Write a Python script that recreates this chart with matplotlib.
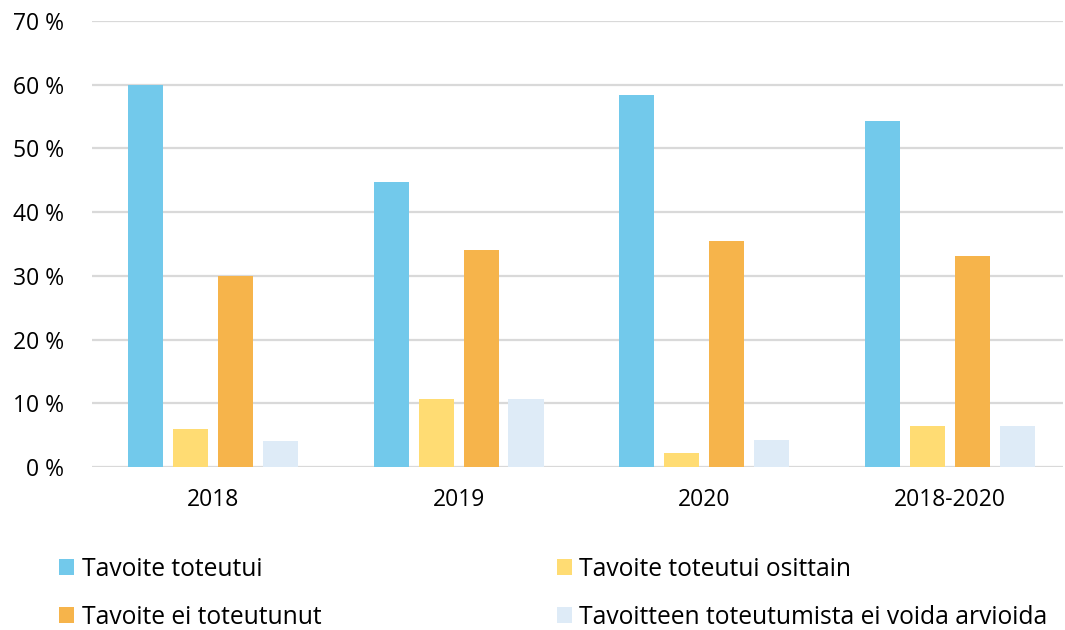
import numpy as np
import matplotlib.pyplot as plt

plt.rcParams['font.family'] = ['Open Sans', 'DejaVu Sans']

categories = ['2018', '2019', '2020', '2018-2020']
series_names = ['Tavoite toteutui', 'Tavoite toteutui osittain',
                'Tavoite ei toteutunut', 'Tavoitteen toteutumista ei voida arvioida']
toteutui = [60.0, 44.7, 58.4, 54.3]
osittain = [6.0, 10.7, 2.2, 6.4]
ei_toteutunut = [30.0, 34.1, 35.5, 33.1]
ei_arvioida = [4.1, 10.7, 4.2, 6.4]
colors = ['#72C9EB', '#FFDC73', '#F6B44B', '#DEEBF7']

fig = plt.figure(figsize=(10.65, 6.3), dpi=100)
ax = fig.add_axes([0.0864, 0.2587, 0.9116, 0.708])

x = np.arange(len(categories))
w = 0.143
step = 0.183
bars = []
for i, (vals, c) in enumerate(zip([toteutui, osittain, ei_toteutunut, ei_arvioida], colors)):
    b = ax.bar(x + (i - 1.5) * step, vals, width=w, color=c, label=series_names[i], zorder=3)
    bars.append(b)

fs = 16.5
ax.set_ylim(0, 70)
ax.set_xlim(-0.4925, 3.46)
ax.set_yticks(range(0, 71, 10))
ax.set_yticklabels([f'{v} %' for v in range(0, 71, 10)], fontsize=fs)
ax.set_xticks(x)
ax.set_xticklabels(categories, fontsize=fs)
ax.tick_params(axis='both', length=0)
ax.tick_params(axis='x', pad=15)
ax.tick_params(axis='y', pad=20)
ax.grid(axis='y', color='#D9D9D9', linewidth=1.6, zorder=0)
for s in ax.spines.values():
    s.set_visible(False)

handles = [bars[0], bars[2], bars[1], bars[3]]
labels = [series_names[0], series_names[2], series_names[1], series_names[3]]
fig.legend(handles, labels, ncol=2, loc='lower left', bbox_to_anchor=(0.035, -0.035),
           frameon=False, fontsize=17.7, handlelength=0.6, handleheight=0.6,
           handletextpad=0.3, columnspacing=9.6, labelspacing=0.95)

fig.savefig('out.png', dpi=100)
